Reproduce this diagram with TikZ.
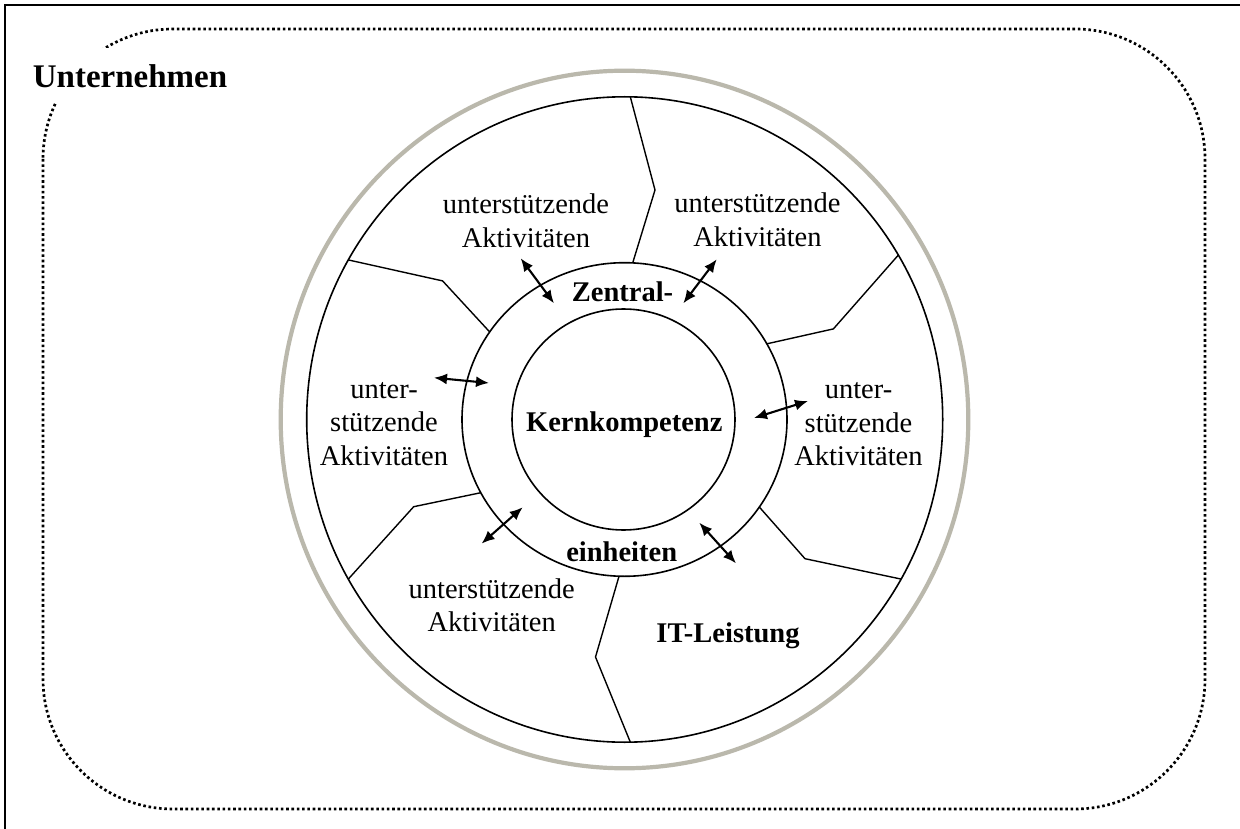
\documentclass[tikz,border=0pt]{standalone}
\usepackage{fontspec}
\setmainfont{Liberation Serif}
\usetikzlibrary{shapes.geometric,arrows.meta}
\definecolor{ringgray}{RGB}{186,184,172}
\begin{document}
\begin{tikzpicture}[x=1pt,y=-1pt,
  ring/.style={ellipse, draw, inner sep=0pt, outer sep=0pt, line width=1.6pt},
  spoke/.style={line width=1.4pt, line join=miter},
  link/.style={line width=2.1pt, {Latex[length=13pt,width=11pt]}-{Latex[length=13pt,width=11pt]}},
  txt/.style={font=\fontsize{28.5}{33.5}\selectfont, align=center, inner sep=0pt},
  strong/.style={font=\fontsize{28.5}{33.5}\selectfont\bfseries, inner sep=0pt, anchor=base},
  company/.style={font=\fontsize{33}{40}\selectfont\bfseries, fill=white, inner xsep=4pt, inner ysep=0pt,
    text height=26pt, text depth=0pt, minimum height=54pt},
  boundary/.style={line width=2.7pt, dash pattern=on 2.6pt off 2.7pt, rounded corners=130pt}]

% page
\useasboundingbox (0,0) rectangle (1240,829);
\fill[white] (0,0) rectangle (1240,829);

% company boundary and its title
\draw[boundary] (43,29) rectangle (1205,809);
\node[company] (firm) at (130,75) {Unternehmen};

% frame (top and left edges)
\draw[line width=2.2pt] (1240,5.3) -- (5.3,5.3) -- (5.3,829);

% rings
\node[ring, draw=ringgray, line width=4.2pt, minimum width=687.6pt, minimum height=697.6pt] (shell) at (624.5,419.5) {};
\node[ring, minimum width=636pt, minimum height=645.4pt] (outer) at (624.7,419.5) {};
\node[ring, minimum width=325pt, minimum height=313.6pt] (central) at (624.5,419.5) {};
\node[ring, minimum width=223pt, minimum height=221pt] (core) at (623.5,419.5) {};

% bends of the sector borders
\coordinate (k1) at (655,190);
\coordinate (k2) at (833.4,328.9);
\coordinate (k3) at (805,558.7);
\coordinate (k4) at (595.5,657);
\coordinate (k5) at (413.7,506.7);
\coordinate (k6) at (442.6,280.9);

% sector borders
\draw[spoke] (outer.89.8) -- (k1) -- (central.87.3);
\draw[spoke] (outer.31.0) -- (k2) -- (central.28.0);
\draw[spoke] (central.-33.3) -- (k3) -- (outer.-30.0);
\draw[spoke] (central.-92.4) -- (k4) -- (outer.-89.6);
\draw[spoke] (central.-153.0) -- (k5) -- (outer.-150.1);
\draw[spoke] (outer.150.8) -- (k6) -- (central.147.2);

% arrow ends
\coordinate (a1s) at (520.7,258.3); \coordinate (a1e) at (554,303.3);
\coordinate (a2s) at (716.7,259.3); \coordinate (a2e) at (683.3,303.3);
\coordinate (a3s) at (434,377.7);   \coordinate (a3e) at (489,383);
\coordinate (a4s) at (754,418);     \coordinate (a4e) at (808,401);
\coordinate (a5s) at (522.7,507.3); \coordinate (a5e) at (481.6,543.6);
\coordinate (a6s) at (699.3,522.7); \coordinate (a6e) at (736,563.3);

\draw[link] (a1s) -- (a1e);
\draw[link] (a2s) -- (a2e);
\draw[link] (a3s) -- (a3e);
\draw[link] (a4s) -- (a4e);
\draw[link] (a5s) -- (a5e);
\draw[link] (a6s) -- (a6e);

% sector labels
\node[txt] (sTL) at (526,221) {unterstützende\\Aktivitäten};
\node[txt] (sTR) at (757.5,220) {unterstützende\\Aktivitäten};
\node[txt] (sL) at (384,424) {unter-\\stützende\\Aktivitäten};
\node[txt] (sR) at (858.5,424.5) {unter-\\stützende\\Aktivitäten};
\node[txt] (sBL) at (491.7,605) {unterstützende\\Aktivitäten};
\node[strong] (it) at (728,642.5) {IT-Leistung};

% centre labels
\node[strong] (zt) at (622.5,301.7) {Zentral-};
\node[strong] (kk) at (624.3,431.7) {Kernkompetenz};
\node[strong] (eh) at (621.7,561.7) {einheiten};
\end{tikzpicture}
\end{document}
